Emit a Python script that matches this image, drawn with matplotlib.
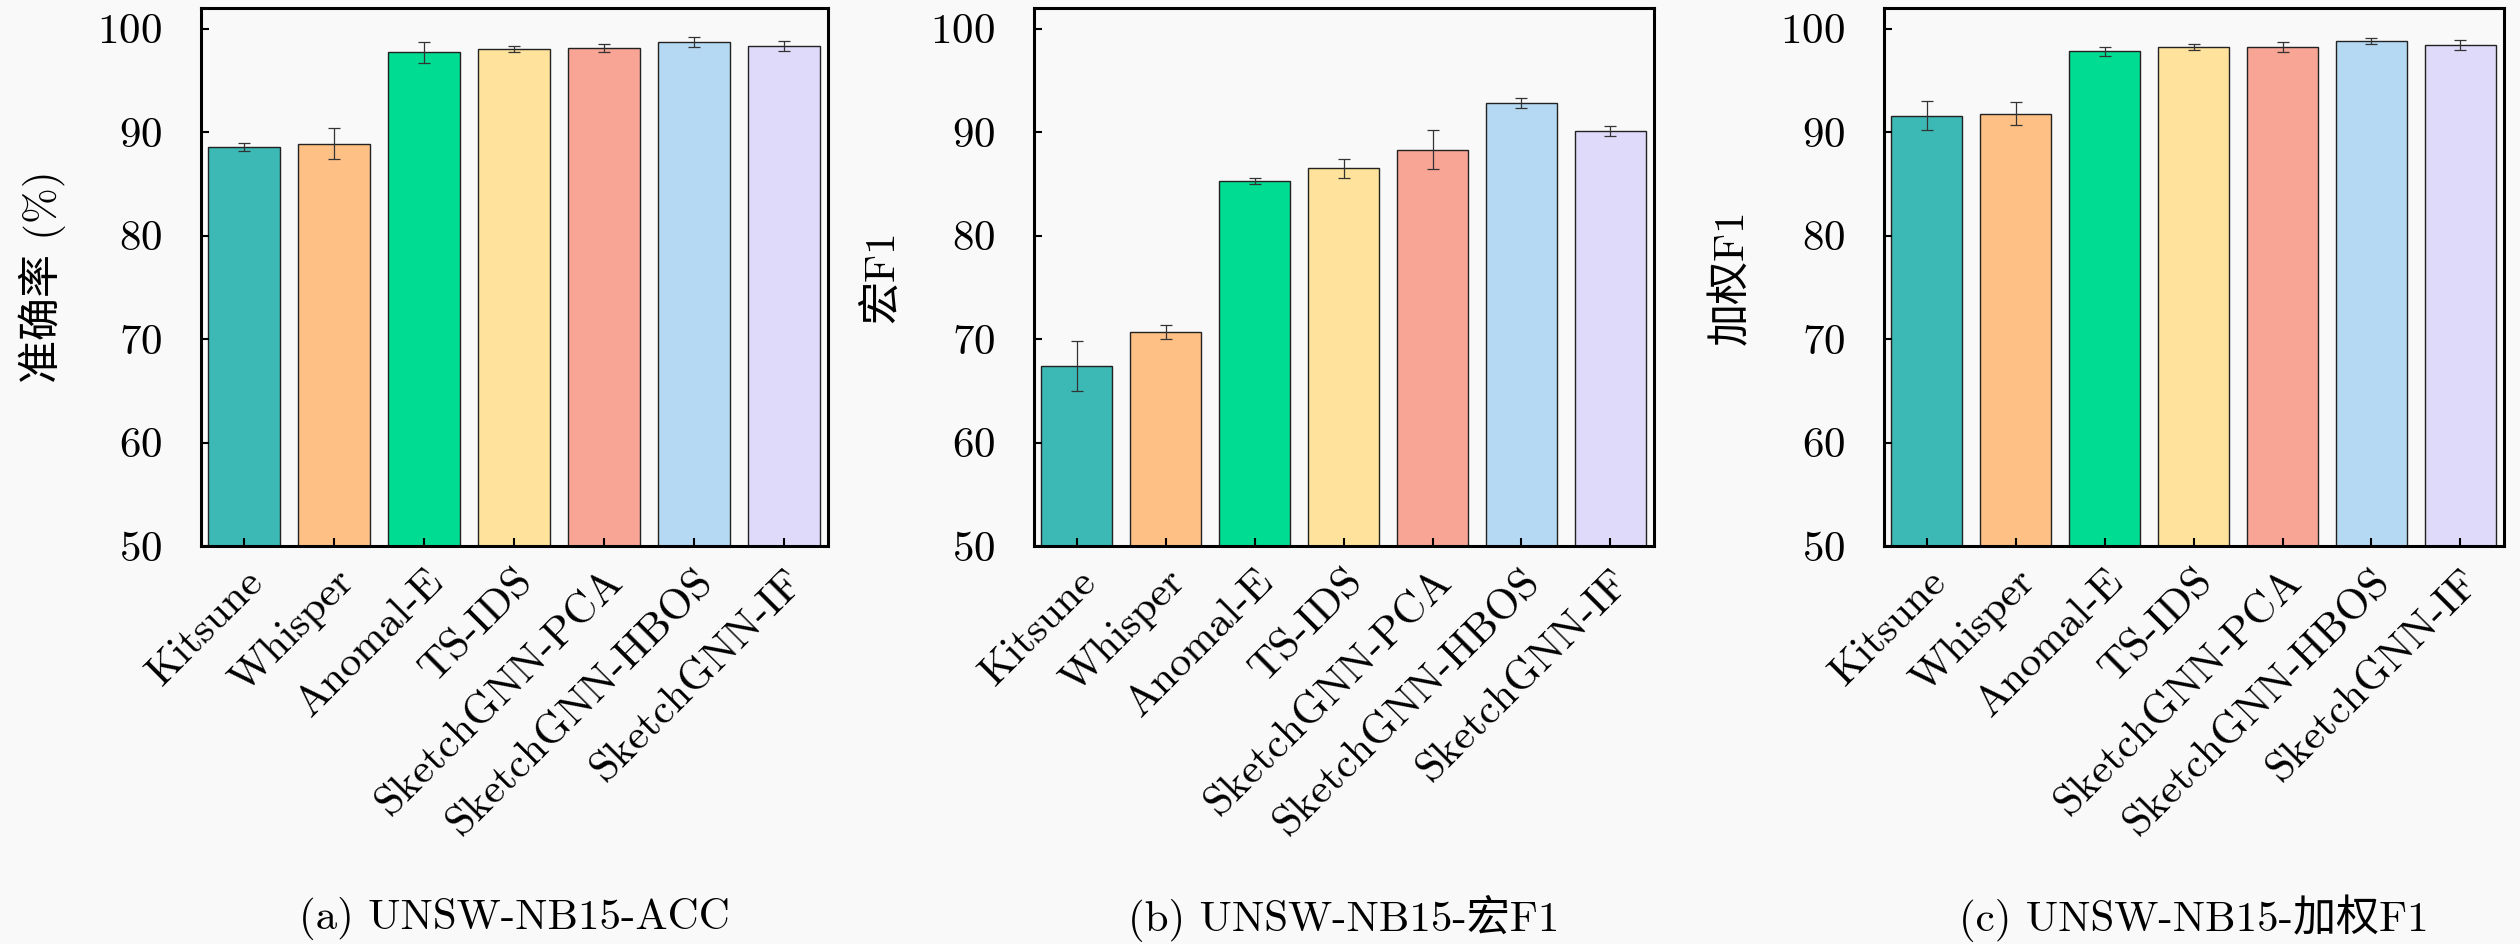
import matplotlib
matplotlib.use("Agg")
import matplotlib.pyplot as plt
import numpy as np

plt.rcParams['font.family'] = ['cmr10', 'Noto Sans CJK SC']
plt.rcParams['axes.formatter.use_mathtext'] = True
plt.rcParams['axes.unicode_minus'] = False

methods = ["Kitsune", "Whisper", "Anomal-E", "TS-IDS",
           "SketchGNN-PCA", "SketchGNN-HBOS", "SketchGNN-IF"]
colors = ["#3cb9b5", "#ffc085", "#00dc91", "#ffe29c",
          "#f8a596", "#b5d9f2", "#e0dafa"]

acc = [88.6, 88.9, 97.7, 98.0, 98.1, 98.7, 98.3]
acc_err = [0.4, 1.5, 1.0, 0.3, 0.4, 0.5, 0.5]

macro_f1 = [67.4, 70.7, 85.3, 86.5, 88.3, 92.8, 90.1]
macro_err = [2.4, 0.7, 0.3, 0.9, 1.9, 0.5, 0.5]

weighted_f1 = [91.6, 91.8, 97.8, 98.2, 98.2, 98.8, 98.4]
weighted_err = [1.4, 1.1, 0.4, 0.3, 0.5, 0.3, 0.5]

ylabels = ["准确率 (%)", "宏F1", "加权F1"]
captions = ["(a) UNSW-NB15-ACC", "(b) UNSW-NB15-宏F1", "(c) UNSW-NB15-加权F1"]
yticks = [50, 60, 70, 80, 90, 100]

W, H = 2520, 944
fig = plt.figure(figsize=(W / 100, H / 100), dpi=100)
bg = "#f9f9f9"
fig.patch.set_facecolor(bg)

lefts = [201, 1034, 1884]
widths = [627, 620, 620]
top_px, bot_px = 8, 546
fs = 31

data = [(acc, acc_err), (macro_f1, macro_err), (weighted_f1, weighted_err)]
x = np.arange(len(methods))
for i, (vals, errs) in enumerate(data):
    ax = fig.add_axes([lefts[i] / W, 1 - bot_px / H, widths[i] / W, (bot_px - top_px) / H])
    ax.set_facecolor(bg)
    ax.bar(x, vals, width=0.8, color=colors, edgecolor="#222222", linewidth=1.0,
           yerr=errs, error_kw=dict(ecolor="#333333", elinewidth=0.9, capsize=4, capthick=0.9))
    ax.set_xlim(-0.48, 6.49)
    ax.set_ylim(50, 102)
    ax.set_yticks(yticks)
    ax.set_xticks(x)
    ax.set_xticklabels(methods, rotation=45, ha="right", rotation_mode="anchor",
                       fontsize=fs)
    ax.tick_params(axis="y", direction="in", length=6, width=1.5, labelsize=fs, pad=28)
    ax.tick_params(axis="x", direction="in", length=6, width=1.5, pad=12)
    for s in ax.spines.values():
        s.set_linewidth(2.2)
        s.set_color("black")
    ax.set_ylabel(ylabels[i], fontsize=fs)
    ax.yaxis.set_label_coords(-0.215, 0.5)
    cx = (lefts[i] + widths[i] / 2) / W
    fig.text(cx, 1 - 918 / H, captions[i], ha="center", va="center", fontsize=fs)

fig.savefig("out.png", dpi=100, facecolor=bg)
